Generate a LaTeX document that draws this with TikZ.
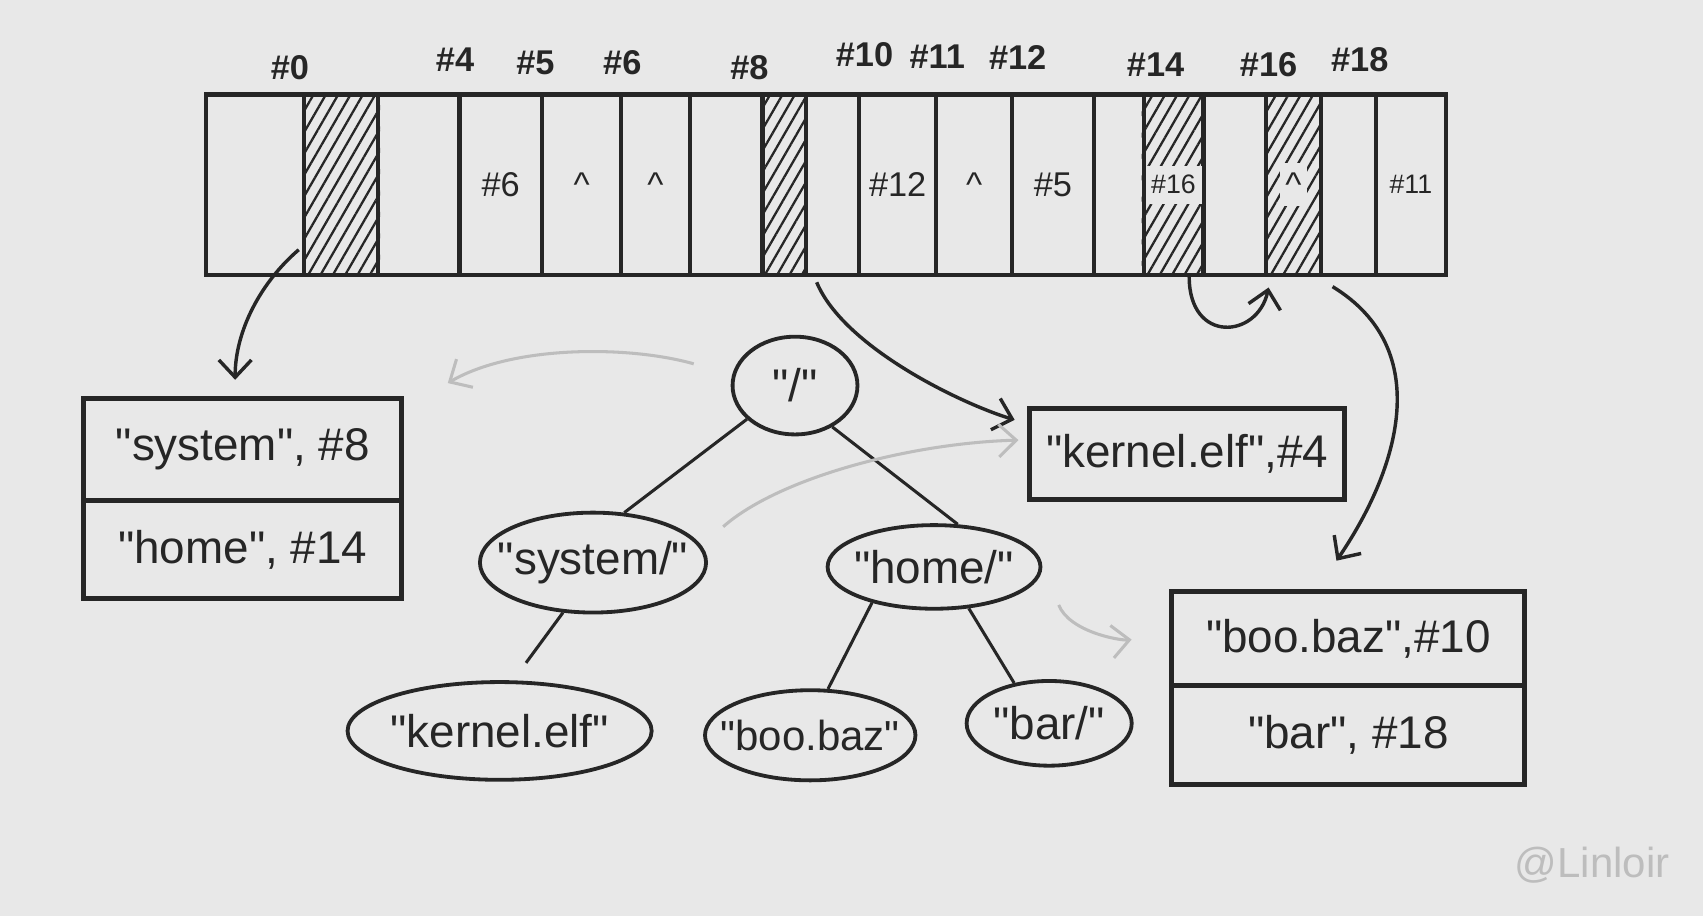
\documentclass[tikz,border=0pt]{standalone}
\usepackage{fontspec}
\setmainfont{Liberation Sans}
\usetikzlibrary{arrows.meta,shapes.geometric,patterns.meta}

\definecolor{paper}{HTML}{E8E8E8}
\definecolor{ink}{HTML}{262626}
\definecolor{pencil}{HTML}{BDBDBD}
\newcommand{\qt}[1]{\textquotedbl#1\textquotedbl}

\begin{document}
\begin{tikzpicture}[
  x=0.1mm, y=-0.1mm,
  cell/.style={draw=ink, line width=1.1pt, minimum height=16.6mm, inner sep=0pt},
  idx/.style={font=\fontsize{9}{10}\selectfont\bfseries, text=ink},
  val/.style={font=\fontsize{9}{10}\selectfont, text=ink, fill=paper, inner xsep=1.5pt, inner ysep=2.5pt},
  entry/.style={draw=ink, line width=1.3pt, minimum width=29.3mm, font=\fontsize{12}{14}\selectfont, text=ink},
  dnode/.style={draw=ink, ellipse, line width=1pt, inner xsep=-1.4mm, inner ysep=0pt,
                font=\fontsize{12}{14}\selectfont, text=ink},
  link/.style={draw=ink, line width=0.8pt},
  arr/.style={-{Straight Barb[length=1.6mm, width=3mm]}, draw=ink, line width=0.9pt},
  ghost/.style={arr, draw=pencil, line width=0.8pt}
]
\fill[paper] (0,0) rectangle (1568,843);

% the block strip
\foreach \a/\b [count=\i] in {190/280, 280/348, 348/423, 423/499, 499/572, 572/635,
    635/702, 702/742, 742/791, 791/862, 862/932, 932/1007, 1007/1053, 1053/1108,
    1108/1166, 1166/1216, 1216/1267, 1267/1331}
  \node[cell, minimum width={(\b-\a)*0.1mm}] (c\i) at ({(\a+\b)/2},170) {};
\foreach \i in {2,8,14,16}
  \fill[pattern={Lines[angle=60, distance=2.8pt, line width=0.6pt]}, pattern color=ink]
    (c\i.south west) rectangle (c\i.north east);
\foreach \i/\t in {4/\#6, 5/\textasciicircum, 6/\textasciicircum, 10/\#12,
    11/\textasciicircum, 12/\#5, 16/\textasciicircum}
  \node[val] (v\i) at (c\i) {\t};
\node[val, font=\fontsize{7}{8}\selectfont] (v14) at (c14) {\#16};
\node[val, font=\fontsize{7}{8}\selectfont] (v18) at (c18) {\#11};
\foreach \x/\y/\n in {267/62/0, 419/55/4, 493/58/5, 573/58/6, 690/62/8, 796/50/10,
    863/52/11, 937/53/12, 1064/60/14, 1168/60/16, 1252/55/18}
  \node[idx] (n\n) at (\x,\y) {\#\n};

% directory entries
\node[entry, minimum height=9.4mm] (dsys) at (223.5,414) {\qt{system}, \#8};
\node[entry, minimum height=9mm] (dhome) at (223.5,506) {\qt{home}, \#14};
\node[entry, minimum width=29mm, minimum height=8.4mm] (kbox) at (1093,418) {\qt{kernel.elf},\#4};
\node[entry, minimum width=32.5mm, minimum height=8.6mm] (dboo) at (1241.5,588) {\qt{boo.baz},\#10};
\node[entry, minimum width=32.5mm, minimum height=9.1mm] (dbar) at (1241.5,676.5) {\qt{bar}, \#18};

% the tree
\node[dnode, minimum width=11.5mm, minimum height=9mm] (root) at (732,355) {\qt{/}};
\node[dnode, minimum width=20.8mm, minimum height=9.2mm] (sys) at (546,518) {\qt{system/}};
\node[dnode, minimum width=19.6mm, minimum height=7.7mm] (home) at (860,522) {\qt{home/}};
\node[dnode, minimum width=28mm, minimum height=9mm] (kern) at (460,673) {\qt{kernel.elf}};
\node[dnode, font=\fontsize{11}{13}\selectfont, minimum width=18.8mm, minimum height=8.3mm] (boo) at (746,677) {\qt{boo.baz}};
\node[dnode, minimum width=15.2mm, minimum height=7.8mm] (bar) at (966,666) {\qt{bar/}};
\draw[link] (root.215) -- (sys.58);
\draw[link] (root.312) -- (home.61);
\draw[link, shorten >=2mm] (sys.239) -- (kern.75);
\draw[link] (home.210) -- (boo.69);
\draw[link] (home.310) -- (bar.131);

\node[font=\fontsize{11}{12}\selectfont, text=pencil] (sig) at (1466,797) {@Linloir};

% pointers
\draw[arr, shorten >=1.5mm] ([shift={(-3,-25)}]c2.south west)
  .. controls +(-35,30) and +(0,-60) .. ([shift={(-7,0)}]dsys.north);
\draw[arr, shorten >=1.2mm] ([shift={(8,5)}]c8.south east)
  .. controls +(25,60) and +(-60,-18) .. ([shift={(0,-28)}]kbox.west);
\draw[arr, shorten >=1mm] ([shift={(-15,0)}]c14.south east)
  .. controls +(0,62) and +(-12,57) .. ([shift={(6,0)}]c16.south west);
\draw[arr, shorten >=3.2mm] ([shift={(9,9)}]c16.south east)
  .. controls +(95,58) and +(75,-110) .. ([shift={(-29,0)}]dboo.north);
\draw[ghost] ([shift={(-34,-20)}]root.west)
  .. controls +(-60,-17) and +(60,-35) .. ([shift={(40,-12)}]dsys.north east);
\draw[ghost, shorten >=0.8mm] ([shift={(14,-33)}]sys.east)
  .. controls +(51,-45) and +(-108,3) .. ([shift={(0,-13)}]kbox.west);
\draw[ghost, shorten >=3.5mm] ([shift={(15,35)}]home.east)
  .. controls +(10,25) and +(-45,5) .. ([shift={(0,-3)}]dboo.west);
\end{tikzpicture}
\end{document}
